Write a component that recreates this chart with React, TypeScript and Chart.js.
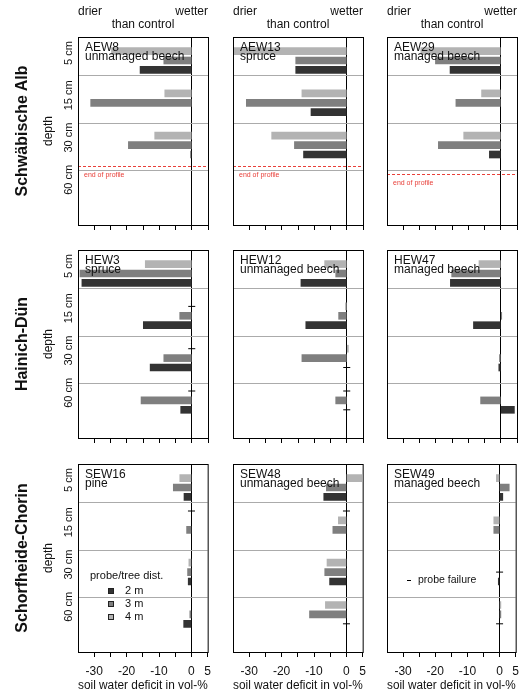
import React, { useEffect, useRef } from 'react';
import { Chart, registerables } from 'chart.js';

Chart.register(...registerables);

const FONT = '"Liberation Sans", Arial, Helvetica, sans-serif';
const INK = '#111111';
const RED = '#e8403a';

// ---------- data ----------
const REGIONS = ['Schwäbische Alb', 'Hainich-Dün', 'Schorfheide-Chorin'];
const SITE_IDS = ['AEW8', 'AEW13', 'AEW29', 'HEW3', 'HEW12', 'HEW47', 'SEW16', 'SEW48', 'SEW49'];
const SITE_TYPES = ['unmanaged beech', 'spruce', 'managed beech', 'spruce', 'unmanaged beech', 'managed beech', 'pine', 'unmanaged beech', 'managed beech'];
const DEPTHS = ['5 cm', '15 cm', '30 cm', '60 cm'];
const DISTANCES = ['4 m', '3 m', '2 m'];
const DIST_COLORS = ['#b3b3b3', '#7f7f7f', '#333333'];
const X_TICKS = [-30, -25, -20, -15, -10, -5, 0, 5];
const X_LABELS = [-30, -20, -10, 0, 5];
const X_MIN = -35;
const X_MAX = 5;

// soil water deficit (vol-%), depth order 5 / 15 / 30 / 60 cm
const AEW8_4M = [-24.7, -8.3, -11.4, null];
const AEW8_3M = [-8.6, -31.1, -19.5, null];
const AEW8_2M = [-15.9, null, -0.3, null];
const AEW13_4M = [-35, -13.8, -23.1, null];
const AEW13_3M = [-15.7, -30.9, -16.1, null];
const AEW13_2M = [-15.7, -11.0, -13.3, null];
const AEW29_4M = [-24.6, -5.9, -11.4, null];
const AEW29_3M = [-20.1, -13.8, -19.2, null];
const AEW29_2M = [-15.6, null, -3.5, null];
const HEW3_4M = [-14.3, null, null, null];
const HEW3_3M = [-34.4, -3.7, -8.6, -15.6];
const HEW3_2M = [-33.8, -14.9, -12.8, -3.4];
const HEW12_4M = [-6.8, -0.4, 0.5, null];
const HEW12_3M = [-3.4, -2.5, -13.8, -3.4];
const HEW12_2M = [-14.1, -12.6, null, null];
const HEW47_4M = [-6.7, null, null, null];
const HEW47_3M = [-15.1, 0.3, -0.4, -6.2];
const HEW47_2M = [-15.5, -8.4, -0.6, 4.2];
const SEW16_4M = [-3.6, null, -0.8, null];
const SEW16_3M = [-5.6, -1.5, -1.2, -0.5];
const SEW16_2M = [-2.3, null, -1.0, -2.4];
const SEW48_4M = [4.7, -2.5, -6.0, -6.5];
const SEW48_3M = [-6.2, -4.2, -6.7, -11.4];
const SEW48_2M = [-7.0, null, -5.2, null];
const SEW49_4M = [-1.0, -1.8, null, 0.4];
const SEW49_3M = [3.0, -1.8, null, 0.4];
const SEW49_2M = [1.0, null, -0.4, null];

// probe failures: [depth index, probe index (0 = 4 m, 1 = 3 m, 2 = 2 m, -1 = above group)]
const AEW8_FAIL: number[][] = [];
const AEW13_FAIL: number[][] = [];
const AEW29_FAIL: number[][] = [];
const HEW3_FAIL = [[1, 0], [2, 0], [3, 0]];
const HEW12_FAIL = [[2, 2], [3, 0], [3, 2]];
const HEW47_FAIL: number[][] = [];
const SEW16_FAIL = [[1, -1]];
const SEW48_FAIL = [[1, -1], [3, 2]];
const SEW49_FAIL = [[2, 1], [3, 2]];

// end of soil profile (depth-axis units), per site
const PROFILE_END = [13.7, 13.7, 14.6, null, null, null, null, null, null];
// depth-section separators (depth-axis units)
const DEPTH_DIVIDERS = [4.1, 9.25, 14.2];

const SERIES = [
  [AEW8_4M, AEW8_3M, AEW8_2M],
  [AEW13_4M, AEW13_3M, AEW13_2M],
  [AEW29_4M, AEW29_3M, AEW29_2M],
  [HEW3_4M, HEW3_3M, HEW3_2M],
  [HEW12_4M, HEW12_3M, HEW12_2M],
  [HEW47_4M, HEW47_3M, HEW47_2M],
  [SEW16_4M, SEW16_3M, SEW16_2M],
  [SEW48_4M, SEW48_3M, SEW48_2M],
  [SEW49_4M, SEW49_3M, SEW49_2M],
];
const FAILS = [AEW8_FAIL, AEW13_FAIL, AEW29_FAIL, HEW3_FAIL, HEW12_FAIL, HEW47_FAIL, SEW16_FAIL, SEW48_FAIL, SEW49_FAIL];
const LEGEND_SITE = 'SEW16';
const FAILURE_NOTE_SITE = 'SEW49';

// ---------- layout ----------
const COL_LEFT = [78, 233, 387];
const ROW_TOP = [37, 250, 464];
const BOX_W = 130;
const BOX_H = 188;

function slot(g: number, b: number) {
  return 1.5 + 4.5 * g + b;
}

function Panel({ index }: { index: number }) {
  const ref = useRef<HTMLCanvasElement>(null);
  const row = Math.floor(index / 3);
  const col = index % 3;
  const boxL = COL_LEFT[col];
  const boxT = ROW_TOP[row];
  const cL = col === 0 ? 0 : boxL - 13;
  const cR = col === 2 ? 526 : boxL + BOX_W + 10;
  const cT = row === 0 ? 0 : boxT - 18;
  const axisH = row === 2 ? 44 : 6;
  const cB = boxT + BOX_H + axisH;
  const W = cR - cL;
  const H = cB - cT;

  useEffect(() => {
    if (!ref.current) return;
    const series = SERIES[index];
    const fails = FAILS[index];
    const datasets: any[] = series.map((vals, b) => ({
      type: 'bar',
      label: DISTANCES[b],
      data: vals
        .map((v, g) => (v === null ? null : { x: v, y: slot(g, b) }))
        .filter((p) => p !== null),
      backgroundColor: DIST_COLORS[b],
      borderWidth: 0,
      grouped: false,
      barThickness: 7,
      clip: 0,
    }));
    datasets.push({
      type: 'scatter',
      label: 'probe failure',
      data: fails.map(([g, b]) => ({ x: 0, y: slot(g, b) })),
      pointStyle: 'line',
      pointRadius: 3.5,
      pointBorderColor: '#000',
      pointBackgroundColor: '#000',
      pointBorderWidth: 1,
      borderColor: '#000',
      clip: false,
    });

    const decor = {
      id: 'decor',
      afterDatasetsDraw(chart: any) {
        const { ctx, chartArea: a } = chart;
        const ys = chart.scales.y;
        ctx.save();
        // end of profile
        const pe = PROFILE_END[index];
        if (pe !== null) {
          const py = Math.round(ys.getPixelForValue(pe)) + 0.5;
          ctx.strokeStyle = RED;
          ctx.lineWidth = 1;
          ctx.setLineDash([3, 2]);
          ctx.beginPath();
          ctx.moveTo(a.left, py);
          ctx.lineTo(a.right, py);
          ctx.stroke();
          ctx.setLineDash([]);
          ctx.fillStyle = RED;
          ctx.font = `7px ${FONT}`;
          ctx.textAlign = 'left';
          ctx.textBaseline = 'middle';
          ctx.fillText('end of profile', a.left + 6, py + 9);
        }
        // site label
        ctx.fillStyle = INK;
        ctx.font = `12px ${FONT}`;
        ctx.textAlign = 'left';
        ctx.textBaseline = 'alphabetic';
        ctx.fillText(SITE_IDS[index], a.left + 7, a.top + 13.5);
        ctx.fillText(SITE_TYPES[index], a.left + 7, a.top + 22.5);
        // header
        if (row === 0) {
          ctx.textBaseline = 'middle';
          ctx.textAlign = 'left';
          ctx.fillText('drier', a.left, a.top - 25);
          ctx.textAlign = 'right';
          ctx.fillText('wetter', a.right, a.top - 25);
          ctx.textAlign = 'center';
          ctx.fillText('than control', (a.left + a.right) / 2, a.top - 12);
        }
        // depth labels
        if (col === 0) {
          ctx.textAlign = 'center';
          ctx.textBaseline = 'middle';
          ctx.font = `11px ${FONT}`;
          DEPTHS.forEach((d, g) => {
            const py = ys.getPixelForValue(slot(g, 0.2));
            ctx.save();
            ctx.translate(a.left - 9, py);
            ctx.rotate(-Math.PI / 2);
            ctx.fillText(d, 0, 0);
            ctx.restore();
          });
          ctx.font = `12px ${FONT}`;
          ctx.save();
          ctx.translate(a.left - 29, (a.top + a.bottom) / 2);
          ctx.rotate(-Math.PI / 2);
          ctx.fillText('depth', 0, 0);
          ctx.restore();
        }
        // legend
        if (SITE_IDS[index] === LEGEND_SITE) {
          ctx.textAlign = 'left';
          ctx.textBaseline = 'middle';
          ctx.font = `11px ${FONT}`;
          ctx.fillStyle = INK;
          ctx.fillText('probe/tree dist.', a.left + 12, a.top + 112);
          [2, 1, 0].forEach((b, k) => {
            const cy = Math.round(a.top + 127 + k * 13);
            ctx.fillStyle = DIST_COLORS[b];
            ctx.fillRect(a.left + 30, cy - 3, 6, 6);
            ctx.strokeStyle = '#222';
            ctx.lineWidth = 1;
            ctx.strokeRect(a.left + 30.5, cy - 2.5, 5, 5);
            ctx.fillStyle = INK;
            ctx.fillText(DISTANCES[b], a.left + 47, cy);
          });
        }
        if (SITE_IDS[index] === FAILURE_NOTE_SITE) {
          const cy = Math.round(a.top + 116) + 0.5;
          ctx.strokeStyle = '#000';
          ctx.lineWidth = 1;
          ctx.beginPath();
          ctx.moveTo(a.left + 20, cy);
          ctx.lineTo(a.left + 24, cy);
          ctx.stroke();
          ctx.fillStyle = INK;
          ctx.font = `10.5px ${FONT}`;
          ctx.textAlign = 'left';
          ctx.textBaseline = 'middle';
          ctx.fillText('probe failure', a.left + 31, cy);
        }
        ctx.restore();
      },
      afterDraw(chart: any) {
        const { ctx, chartArea: a } = chart;
        ctx.save();
        ctx.strokeStyle = '#000';
        ctx.lineWidth = 1;
        ctx.strokeRect(a.left + 0.5, a.top + 0.5, a.right - a.left, a.bottom - a.top);
        ctx.restore();
      },
    };

    const chart = new Chart(ref.current, {
      type: 'bar',
      data: { datasets },
      options: {
        indexAxis: 'y',
        responsive: false,
        animation: false,
        events: [],
        layout: { padding: { left: boxL - cL, top: boxT - cT, right: cR - boxL - BOX_W, bottom: 0 } },
        plugins: { legend: { display: false }, tooltip: { enabled: false }, title: { display: false } },
        scales: {
          x: {
            type: 'linear',
            min: X_MIN,
            max: X_MAX,
            offset: false,
            afterBuildTicks: (s: any) => {
              s.ticks = X_TICKS.map((v) => ({ value: v }));
            },
            afterFit: (s: any) => {
              s.height = axisH;
            },
            ticks: {
              display: row === 2,
              autoSkip: false,
              maxRotation: 0,
              callback: (v: any) => (X_LABELS.includes(Number(v)) ? String(v) : ''),
              font: { family: FONT, size: 12 },
              color: INK,
              padding: 7,
            },
            grid: {
              color: (c: any) => (c.tick && c.tick.value === 0 ? '#000000' : 'rgba(0,0,0,0)'),
              tickColor: '#000000',
              tickLength: 5,
              lineWidth: 1,
              offset: false,
              drawOnChartArea: true,
              drawTicks: true,
            },
            border: { display: true, color: '#000000', width: 1 },
            title: {
              display: row === 2,
              text: 'soil water deficit in vol-%',
              font: { family: FONT, size: 12 },
              color: INK,
              padding: { top: 0, bottom: 3 },
            },
          },
          y: {
            type: 'linear',
            min: 0,
            max: 20,
            reverse: true,
            offset: false,
            afterBuildTicks: (s: any) => {
              s.ticks = DEPTH_DIVIDERS.map((v) => ({ value: v }));
            },
            afterFit: (s: any) => {
              s.width = 0;
            },
            ticks: { display: false },
            grid: { color: '#ababab', lineWidth: 1, drawTicks: false, offset: false },
            border: { display: false },
          },
        },
      } as any,
      plugins: [decor],
    } as any);
    return () => chart.destroy();
  }, []);

  return (
    <canvas
      ref={ref}
      width={W}
      height={H}
      style={{ position: 'absolute', left: cL, top: cT, width: W, height: H, display: 'block' }}
    />
  );
}

export default function App() {
  return (
    <div style={{ position: 'absolute', left: 0, top: 0, width: 526, height: 696, background: '#ffffff', overflow: 'hidden' }}>
      {SITE_IDS.map((_, i) => (
        <Panel key={i} index={i} />
      ))}
      {REGIONS.map((r, i) => (
        <div
          key={r}
          style={{
            position: 'absolute',
            left: 22,
            top: ROW_TOP[i] + BOX_H / 2,
            transform: 'translate(-50%, -50%) rotate(-90deg)',
            font: `bold 16px ${FONT}`,
            color: INK,
            whiteSpace: 'nowrap',
            lineHeight: 1,
          }}
        >
          {r}
        </div>
      ))}
    </div>
  );
}
